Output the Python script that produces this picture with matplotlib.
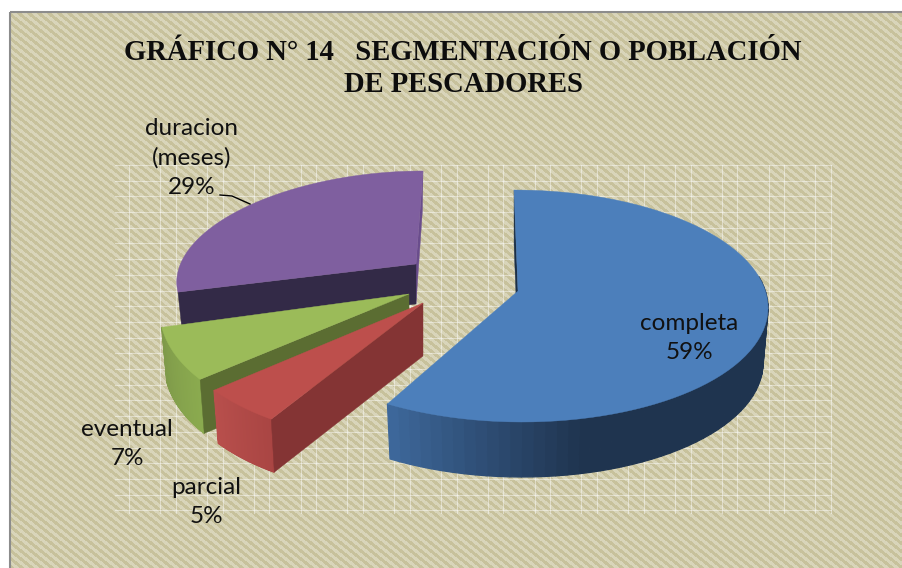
import numpy as np
import matplotlib
matplotlib.use('Agg')
import matplotlib.pyplot as plt
from matplotlib.patches import Polygon, Rectangle
from matplotlib.colors import to_rgb

# Data
labels = ['completa', 'parcial', 'eventual', 'duracion\n(meses)']
values = [59, 5, 7, 29]

# pie geometry per slice, in pixels of the original picture
apex_x = [518, 423, 409, 416]
apex_y = [291, 303, 294, 264]
center_x = [518, 423, 409, 392]
center_y = [306, 301, 294, 268]
rad_x = [250, 258, 248, 213]
rad_y = [116, 140, 134, 97]
skew = [-4, 16, 28, 31]
depth = [55, 53, 54, 40]

top_col = ['#4c7fbb', '#bd4f4c', '#9bbb59', '#7f5f9f']
start_wall = ['#1b2f47', '#843434', '#5b6d32', '#332a47']
end_wall = ['#1b2f47', '#843434', '#5b6d32', '#6a4d8c']
side_from = ['#1f344f', '#a94543', '#8bab4f', '#7f9a4a']
side_to = ['#3f6a9e', '#b84f4c', '#7f9a4a', '#7f9a4a']
shade_start = [165, 212, 230, 255]

label_x = [689, 206, 127, 192]
label_y = [338, 502, 444, 158]

W, H = 902, 568
fig = plt.figure(figsize=(W / 100, H / 100), dpi=100, facecolor='white')
ax = fig.add_axes([0, 0, 1, 1])

# woven background
yy, xx = np.mgrid[12:H, 10:W]
stripe = ((xx * 0.8 - yy) % 8.0) < 4.0
fine = ((xx + yy) % 4) == 0
tex = np.where(stripe, 0.05, 0.9) + np.where(fine, 0.08, 0.0)
tex = np.clip(tex, 0, 1)[..., None]
c1 = np.array(to_rgb('#c6c09a'))
c2 = np.array(to_rgb('#dbd7bd'))
ax.imshow(c1 + (c2 - c1) * tex, extent=(10, W, H, 12), interpolation='nearest', aspect='auto', zorder=0)
ax.set_xlim(0, W)
ax.set_ylim(H, 0)
ax.axis('off')
ax.add_patch(Rectangle((10, 12), W, H, fill=False, ec='#8c8c8c', lw=1.5, zorder=1))

# thin white grid behind the pie, some lines fade out in the original
for k, gx in enumerate(np.arange(831, 114, -15.6)):
    if k % 3 != 2:
        ax.plot([gx, gx], [165, 513], color='white', lw=0.8, alpha=0.45, zorder=1)
for gy in np.arange(165, 514, 15.7):
    ax.plot([115, 831], [gy, gy], color='white', lw=0.8, alpha=0.45, zorder=1)


def rim(i, t, drop=0.0):
    # t in degrees clockwise from the top of the pie
    r = np.radians(t)
    shrink = 0.98 if drop else 1.0
    x = center_x[i] + (rad_x[i] * np.sin(r) + skew[i] * np.cos(r)) * shrink
    y = center_y[i] - rad_y[i] * np.cos(r) + drop
    return x, y


def mix(a, b, f):
    a, b = np.array(to_rgb(a)), np.array(to_rgb(b))
    return tuple(a + (b - a) * f)


def wall(i, t, col, z):
    x0, y0 = rim(i, t)
    x1, y1 = rim(i, t, depth[i])
    pts = [(apex_x[i], apex_y[i]), (x0, y0), (x1, y1), (apex_x[i], apex_y[i] + depth[i])]
    ax.add_patch(Polygon(pts, closed=True, fc=col, ec=col, lw=0.3, zorder=z))


# slices go clockwise from the top, back ones drawn first
edges = np.concatenate([[0], np.cumsum(values)]) * 360.0 / sum(values)
for z, i in enumerate([3, 2, 1, 0]):
    base = 2 + z * 4
    t0, t1 = edges[i], edges[i + 1]
    if i == 3:
        wall(i, t1, end_wall[i], base)
    ts = np.linspace(t0, t1, 80)
    # outer side, shaded piece by piece (duracion shows no side)
    if i != 3:
        for a, b in zip(ts[:-1], ts[1:]):
            if np.cos(np.radians(a)) > 0.25 and np.cos(np.radians(b)) > 0.25:
                continue
            f = np.clip((a - shade_start[i]) / (t1 - shade_start[i]), 0, 1)
            xa, ya = rim(i, a)
            xb, yb = rim(i, b)
            xc, yc = rim(i, b, depth[i])
            xd, yd = rim(i, a, depth[i])
            col = mix(side_from[i], side_to[i], f)
            ax.add_patch(Polygon([(xa, ya), (xb, yb), (xc, yc), (xd, yd)], closed=True,
                                 fc=col, ec=col, lw=0.9, zorder=base + 1))
    if i == 0:
        wall(i, t0, start_wall[i], base)
    else:
        wall(i, t0, start_wall[i], base + 2)
    tx, ty = rim(i, ts)
    pts = [(apex_x[i], apex_y[i])] + list(zip(tx, ty))
    ax.add_patch(Polygon(pts, closed=True, fc=top_col[i], ec=top_col[i], lw=0.3, zorder=base + 3))

# leader line of duracion
ax.plot([220, 232, 250], [195, 196, 204], color='black', lw=1.0, zorder=30)

ax.text(463, 52, 'GRÁFICO N° 14   SEGMENTACIÓN O POBLACIÓN', family='Liberation Serif',
        weight='bold', fontsize=20.6, ha='center', va='center', color='#0d0d0d', zorder=30)
ax.text(463, 85, 'DE PESCADORES', family='Liberation Serif',
        weight='bold', fontsize=20.6, ha='center', va='center', color='#0d0d0d', zorder=30)

for i in range(4):
    ax.text(label_x[i], label_y[i], '%s\n%d%%' % (labels[i], values[i]), family='Lato',
            fontsize=17.5, ha='center', va='center', linespacing=1.5, color='#111111', zorder=30)

fig.savefig('out.png', dpi=100)
